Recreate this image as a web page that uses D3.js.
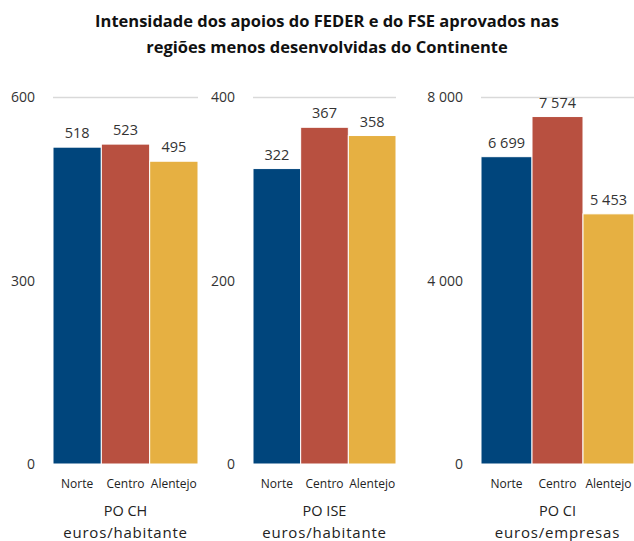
<!DOCTYPE html>
<html>
<head>
<meta charset="utf-8">
<script src="https://cdn.jsdelivr.net/npm/d3@7"></script>
<style>
  body { margin: 0; background: #fff; }
  svg { display: block; font-family: "Open Sans", "Noto Sans", sans-serif; }
</style>
</head>
<body>
<svg id="chart" width="634" height="541"></svg>
<script>
// data
let regions = ["Norte", "Centro", "Alentejo"];
let programmes = ["PO CH", "PO ISE", "PO CI"];
let units = ["euros/habitante", "euros/habitante", "euros/empresas"];
let valuesCH = [518, 523, 495];
let valuesISE = [322, 367, 358];
let valuesCI = [6699, 7574, 5453];
let ticksCH = [0, 300, 600];
let ticksISE = [0, 200, 400];
let ticksCI = [0, 4000, 8000];

let colors = ["#00457c", "#b85040", "#e6b042"];

let locale = d3.formatLocale({ decimal: ",", thousands: "\u00a0", grouping: [3], currency: ["", "€"] });
let fmt = locale.format(",d");

let panels = [
    { name: programmes[0], unit: units[0], values: valuesCH, ticks: ticksCH, x0: 53, x1: 198 },
    { name: programmes[1], unit: units[1], values: valuesISE, ticks: ticksISE, x0: 253, x1: 396 },
    { name: programmes[2], unit: units[2], values: valuesCI, ticks: ticksCI, x0: 481, x1: 634 },
];

let plotTop = 97, plotBottom = 464;

const svg = d3.select("#chart");

// title
svg.append("text")
    .attr("x", 327).attr("y", 27)
    .attr("text-anchor", "middle")
    .style("font-size", "16.5px").style("font-weight", "bold").attr("fill", "#111")
    .text("Intensidade dos apoios do FEDER e do FSE aprovados nas");
svg.append("text")
    .attr("x", 327).attr("y", 53)
    .attr("text-anchor", "middle")
    .style("font-size", "16.5px").style("font-weight", "bold").attr("fill", "#111")
    .text("regiões menos desenvolvidas do Continente");

panels.forEach(p => {
    let x = d3.scaleBand()
        .domain(regions)
        .range([p.x0, p.x1])
        .padding(0);
    let y = d3.scaleLinear()
        .domain([0, p.ticks[p.ticks.length - 1]])
        .range([plotBottom, plotTop]);

    let g = svg.append("g");

    // top gridline
    g.append("line")
        .attr("x1", p.x0).attr("x2", p.x1)
        .attr("y1", y(p.ticks[p.ticks.length - 1]) + 0.5)
        .attr("y2", y(p.ticks[p.ticks.length - 1]) + 0.5)
        .attr("stroke", "#d9d9d9").attr("stroke-width", 1.5);

    // tick labels, right aligned 18px left of the bars
    g.selectAll(".tick")
        .data(p.ticks)
        .join("text")
        .attr("class", "tick")
        .attr("x", p.x0 - 18)
        .attr("y", d => y(d) + 5)
        .attr("text-anchor", "end")
        .style("font-size", "14px")
        .attr("fill", "#333")
        .text(d => fmt(d));

    // bars
    g.selectAll(".bar")
        .data(p.values)
        .join("rect")
        .attr("class", "bar")
        .attr("x", (d, i) => x(regions[i]))
        .attr("width", x.bandwidth())
        .attr("y", d => y(d))
        .attr("height", d => plotBottom - y(d))
        .attr("fill", (d, i) => colors[i])
        .attr("stroke", "#fff")
        .attr("stroke-width", 1);

    // value labels
    g.selectAll(".val")
        .data(p.values)
        .join("text")
        .attr("class", "val")
        .attr("x", (d, i) => x(regions[i]) + x.bandwidth() / 2)
        .attr("y", d => y(d) - 9)
        .attr("text-anchor", "middle")
        .style("font-size", "14.5px")
        .attr("fill", "#333")
        .text(d => fmt(d));

    // category labels
    g.selectAll(".cat")
        .data(regions)
        .join("text")
        .attr("class", "cat")
        .attr("x", d => x(d) + x.bandwidth() / 2)
        .attr("y", 488)
        .attr("text-anchor", "middle")
        .style("font-size", "12px")
        .attr("fill", "#222")
        .text(d => d);

    let cx = (p.x0 + p.x1) / 2;
    g.append("text")
        .attr("x", cx).attr("y", 516)
        .attr("text-anchor", "middle")
        .style("font-size", "14.5px").attr("fill", "#222")
        .text(p.name);
    g.append("text")
        .attr("x", cx).attr("y", 538)
        .attr("text-anchor", "middle")
        .style("font-size", "15px").style("letter-spacing", "0.8px").attr("fill", "#222")
        .text(p.unit);
});
</script>
</body>
</html>
